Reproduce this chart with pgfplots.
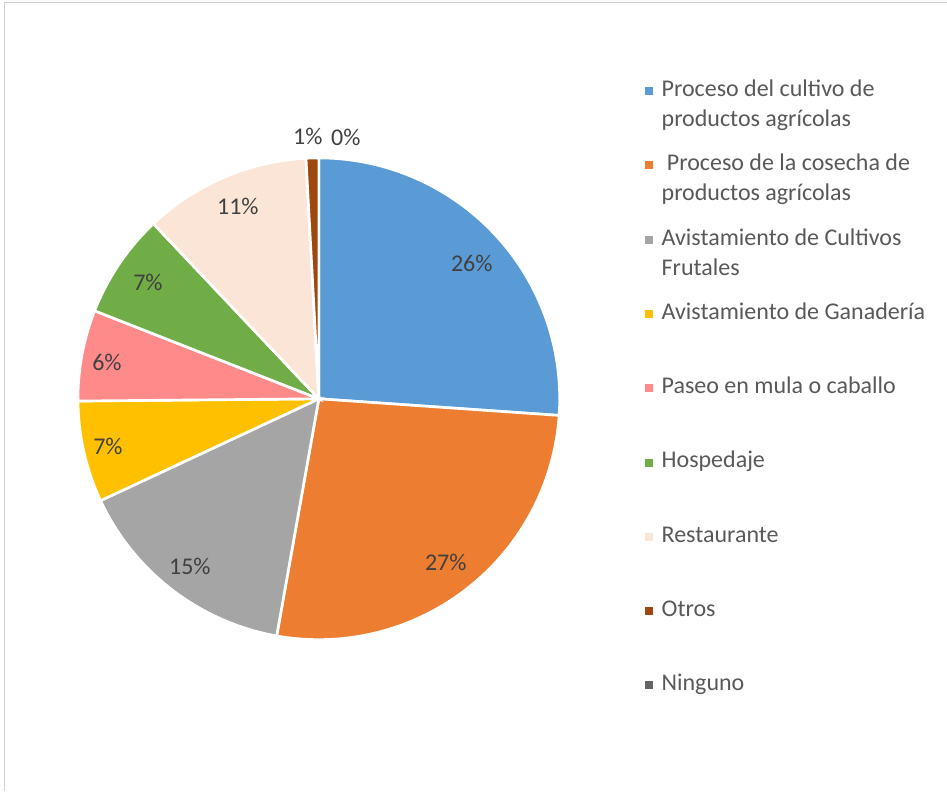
\documentclass[border=0pt]{standalone}
\usepackage{pgfplots}
\usepackage{pgfplotstable}
\pgfplotsset{compat=1.18}
\usepackage{fontspec}
\setmainfont{Carlito}

\definecolor{cA}{HTML}{5B9BD5}
\definecolor{cB}{HTML}{ED7D31}
\definecolor{cC}{HTML}{A5A5A5}
\definecolor{cD}{HTML}{FFC000}
\definecolor{cE}{HTML}{FF8A8A}
\definecolor{cF}{HTML}{70AD47}
\definecolor{cG}{HTML}{FBE5D6}
\definecolor{cH}{HTML}{9E480E}
\definecolor{cI}{HTML}{636363}
\definecolor{lbl}{HTML}{404040}
\definecolor{leg}{HTML}{595959}

% share of each category (percent), clockwise from 12 o'clock
\pgfplotstableread{
idx value
0 26.1
1 26.7
2 15.25
3 6.8
4 6.1
5 7.0
6 11.2
7 0.85
8 0
}\piedata

\def\cum{0}
\foreach \i in {0,...,8}{%
  \pgfplotstablegetelem{\i}{value}\of\piedata
  \let\val\pgfplotsretval
  \pgfmathsetmacro\startang{90-3.6*\cum}%
  \pgfmathsetmacro\newcum{\cum+\val}%
  \pgfmathsetmacro\endang{90-3.6*\newcum}%
  \expandafter\xdef\csname angS\i\endcsname{\startang}%
  \expandafter\xdef\csname angE\i\endcsname{\endang}%
  \xdef\cum{\newcum}%
}

\newcommand\pieslice[2]{%
  \edef\tmp{\noexpand\addplot[fill=#2, draw=white, line width=2pt,
    domain=\csname angE#1\endcsname:\csname angS#1\endcsname, samples=100,
    variable=\noexpand\t]
    ({319+241*cos(\noexpand\t)},{392+241*sin(\noexpand\t)}) -- (axis cs:319,392) -- cycle;}%
  \tmp}

\newcommand\legtxt[1]{{\fontsize{18}{22.5}\selectfont\begin{tabular}[t]{@{}l@{}}#1\end{tabular}}}

\begin{document}
\begin{tikzpicture}
\begin{axis}[
  scale only axis, width=710.25pt, height=593.25pt,
  xmin=0, xmax=947, ymin=0, ymax=791,
  hide axis, clip=false,
  legend cell align=left,
  legend image code/.code={\fill[#1, draw=none] (0pt,1.1pt) rectangle (6pt,7.1pt);},
  legend style={at={(0.6811,0.9045)}, anchor=north west, draw=none, fill=none,
    inner sep=0pt, outer sep=0pt, row sep=0pt,
    font=\fontsize{18}{22.5}\selectfont, text=leg,
    nodes={inner sep=0pt, text height=15.75pt, text depth=40pt, anchor=base west},
    /tikz/every odd column/.append style={column sep=6.75pt}},
]
\path (axis cs:0,0) rectangle (axis cs:947,791);
\draw[color=black!18, line width=0.75pt] (axis cs:4.5,0) -- (axis cs:4.5,788.5) -- (axis cs:947,788.5);

\pieslice{0}{cA}
\addlegendentry{\legtxt{Proceso del cultivo de\\productos agrícolas}}
\pieslice{1}{cB}
\addlegendentry{\legtxt{\hspace{0.22em}Proceso de la cosecha de\\productos agrícolas}}
\pieslice{2}{cC}
\addlegendentry{\legtxt{Avistamiento de Cultivos\\Frutales}}
\pieslice{3}{cD}
\addlegendentry{\legtxt{Avistamiento de Ganadería}}
\pieslice{4}{cE}
\addlegendentry{\legtxt{Paseo en mula o caballo}}
\pieslice{5}{cF}
\addlegendentry{\legtxt{Hospedaje}}
\pieslice{6}{cG}
\addlegendentry{\legtxt{Restaurante}}
\pieslice{7}{cH}
\addlegendentry{\legtxt{Otros}}
\addlegendimage{fill=cI}
\addlegendentry{\legtxt{Ninguno}}

\begin{scope}[every node/.style={text=lbl, font=\fontsize{18}{22.5}\selectfont}]
\node at (axis cs:472,527) {26\%};
\node at (axis cs:446,228) {27\%};
\node at (axis cs:190,224) {15\%};
\node at (axis cs:108,344) {7\%};
\node at (axis cs:107,428) {6\%};
\node at (axis cs:148,508) {7\%};
\node at (axis cs:238,584) {11\%};
\node at (axis cs:308,655) {1\%};
\node at (axis cs:346,654) {0\%};
\end{scope}
\end{axis}
\end{tikzpicture}
\end{document}
